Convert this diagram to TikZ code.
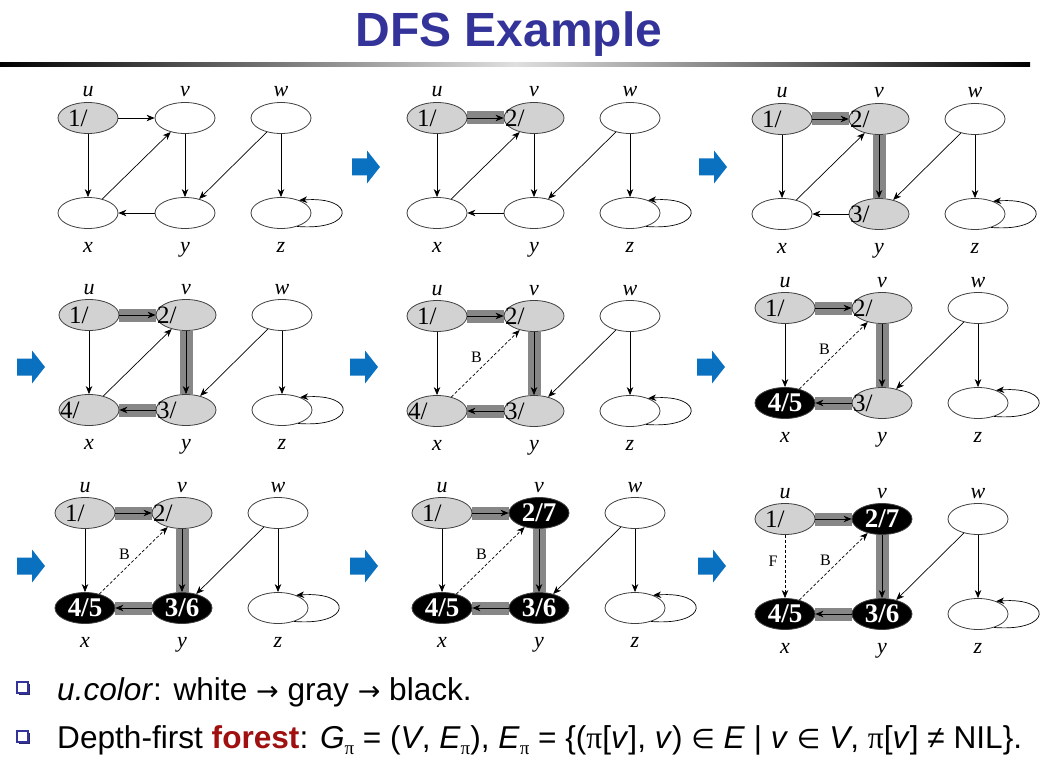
\documentclass[tikz,border=0pt]{standalone}
\usepackage{fontspec}
\setmainfont{Liberation Serif}
\setsansfont{Liberation Sans}
\newfontfamily\dejavu{DejaVu Sans}
\usetikzlibrary{shapes.geometric,arrows.meta,calc,backgrounds}
\definecolor{titleblue}{RGB}{51,51,153}
\definecolor{nodegray}{RGB}{210,210,210}
\definecolor{bandgray}{RGB}{135,135,135}
\definecolor{arrowblue}{RGB}{10,112,192}
\definecolor{forestred}{RGB}{160,16,16}
\definecolor{bulletnavy}{RGB}{40,40,110}
\tikzset{
  vtx/.style={ellipse, draw=black!75, line width=0.8pt, minimum width=60pt, minimum height=31pt, inner sep=0pt, font=\fontsize{25}{25}\selectfont},
  wv/.style={vtx, fill=white},
  gv/.style={vtx, fill=nodegray},
  bv/.style={vtx, fill=black, text=white, font=\fontsize{27}{27}\selectfont\bfseries},
  vlab/.style={font=\fontsize{22}{22}\selectfont\itshape, inner sep=0pt, anchor=base},
  edge/.style={draw=black, line width=0.7pt, -{Stealth[length=8pt,width=6.5pt,inset=2.5pt]}},
  bedge/.style={edge, dash pattern=on 3pt off 2pt},
  band/.style={draw=bandgray, line width=13pt},
  elab/.style={font=\fontsize{16}{16}\selectfont, inner sep=0pt},
  bullettext/.style={font=\sffamily\fontsize{31.6}{31.6}\selectfont, anchor=base west, inner sep=0pt},
}
\newcommand\lft[2]{\makebox[0pt][l]{\hspace*{#1pt}#2}}
\newcommand\common[3]{%
  \node[wv] (#1w) at ({#2+193},{#3}) {};
  \node[wv] (#1z) at ({#2+193},{#3+95}) {};
  \node[vlab] (#1lu) at ({#2},{#3-21}) {u};
  \node[vlab] (#1lv) at ({#2+97},{#3-21}) {v};
  \node[vlab] (#1lw) at ({#2+193},{#3-21}) {w};
  \node[vlab] (#1lx) at ({#2},{#3+95+39}) {x};
  \node[vlab] (#1ly) at ({#2+97},{#3+95+39}) {y};
  \node[vlab] (#1lz) at ({#2+193},{#3+95+39}) {z};
}
\newcommand\stdedges[1]{%
  \draw[edge] (#1u) -- (#1v);
  \draw[edge] (#1v) -- (#1y);
  \draw[edge] (#1y) -- (#1x);
  \draw[edge] (#1w) -- (#1y);
  \draw[edge] (#1w) -- (#1z);
  \draw[edge] (#1z.-40) .. controls ($(#1z)+(75,18)$) and ($(#1z)+(75,-17)$) .. (#1z.35);
}
\newcommand\band[2]{\begin{scope}[on background layer]\draw[band] (#1) -- (#2);\end{scope}}
\newcommand\barrow[2]{\fill[arrowblue] ({#1},{#2-8.5}) -- ++(15,0) -- ++(0,-8) -- ++(13,16.5) -- ++(-13,16.5) -- ++(0,-8) -- ++(-15,0) -- cycle;}
\newcommand\bsq[2]{%
  \fill[bulletnavy] ({#1+2},{#2+2}) rectangle ++(11,11);
  \draw[fill=white, draw=titleblue, line width=1.3pt] ({#1},{#2}) rectangle ++(11,11);
}
\newcommand\pis{\raisebox{-0.22em}{\fontsize{19}{19}\selectfont\rmfamily π}}
\newcommand\elem{{\dejavu\fontsize{27}{27}\selectfont ∈}}
\newcommand\rarr{{\dejavu\fontsize{27}{27}\selectfont →}}
\begin{document}
\begin{tikzpicture}[x=1pt,y=-1pt]
\useasboundingbox (0,0) rectangle (1047,757);
\begin{scope}[on background layer]\fill[white] (0,0) rectangle (1047,757);\end{scope}
% title
\node[font=\sffamily\bfseries\fontsize{48}{48}\selectfont, text=titleblue, anchor=base, inner sep=0pt] (title) at (509,47) {DFS Example};
\shade[left color=black, right color=black, middle color=gray!25] (0,63) rectangle (1030,67);

% ---------- panel 1
\node[gv] (au) at (88,118) {\lft{-20}{1/}};
\node[wv] (av) at (185,118) {};
\node[wv] (ax) at (88,213) {};
\node[wv] (ay) at (185,213) {};
\common{a}{88}{118}
\stdedges{a}
\draw[edge] (au) -- (ax);
\draw[edge] (ax) -- (av);

% ---------- panel 2
\node[gv] (bu) at (437,118) {\lft{-20}{1/}};
\node[gv] (bv) at (534,118) {\lft{-29}{2/}};
\node[wv] (bx) at (437,213) {};
\node[wv] (by) at (534,213) {};
\common{b}{437}{118}
\band{bu}{bv}
\stdedges{b}
\draw[edge] (bu) -- (bx);
\draw[edge] (bx) -- (bv);

% ---------- panel 3
\node[gv] (cu) at (782,119) {\lft{-20}{1/}};
\node[gv] (cv) at (879,119) {\lft{-29}{2/}};
\node[wv] (cx) at (782,214) {};
\node[gv] (cy) at (879,214) {\lft{-29}{3/}};
\common{c}{782}{119}
\band{cu}{cv}\band{cv}{cy}
\stdedges{c}
\draw[edge] (cu) -- (cx);
\draw[edge] (cx) -- (cv);

% ---------- panel 4
\node[gv] (du) at (89,315) {\lft{-20}{1/}};
\node[gv] (dv) at (186,315) {\lft{-29}{2/}};
\node[gv] (dx) at (89,410) {\lft{-29}{4/}};
\node[gv] (dy) at (186,410) {\lft{-29}{3/}};
\common{d}{89}{315}
\band{du}{dv}\band{dv}{dy}\band{dy}{dx}
\stdedges{d}
\draw[edge] (du) -- (dx);
\draw[edge] (dx) -- (dv);

% ---------- panel 5
\node[gv] (eu) at (437,316) {\lft{-20}{1/}};
\node[gv] (ev) at (534,316) {\lft{-29}{2/}};
\node[gv] (ex) at (437,411) {\lft{-29}{4/}};
\node[gv] (ey) at (534,411) {\lft{-29}{3/}};
\common{e}{437}{316}
\band{eu}{ev}\band{ev}{ey}\band{ey}{ex}
\stdedges{e}
\draw[edge] (eu) -- (ex);
\draw[bedge] (ex) -- node[elab, xshift=-9pt, yshift=6pt] (eB) {B} (ev);

% ---------- panel 6
\node[gv] (fu) at (785,308) {\lft{-20}{1/}};
\node[gv] (fv) at (882,308) {\lft{-29}{2/}};
\node[bv] (fx) at (785,403) {4/5};
\node[gv] (fy) at (882,403) {\lft{-29}{3/}};
\common{f}{785}{308}
\band{fu}{fv}\band{fv}{fy}\band{fy}{fx}
\stdedges{f}
\draw[edge] (fu) -- (fx);
\draw[bedge] (fx) -- node[elab, xshift=-9pt, yshift=6pt] (fB) {B} (fv);

% ---------- panel 7
\node[gv] (gu) at (85,513) {\lft{-20}{1/}};
\node[gv] (gv) at (182,513) {\lft{-29}{2/}};
\node[bv] (gx) at (85,608) {4/5};
\node[bv] (gy) at (182,608) {3/6};
\common{g}{85}{513}
\band{gu}{gv}\band{gv}{gy}\band{gy}{gx}
\stdedges{g}
\draw[edge] (gu) -- (gx);
\draw[bedge] (gx) -- node[elab, xshift=-9pt, yshift=6pt] (gB) {B} (gv);

% ---------- panel 8
\node[gv] (hu) at (442,513) {\lft{-20}{1/}};
\node[bv] (hv) at (539,513) {2/7};
\node[bv] (hx) at (442,608) {4/5};
\node[bv] (hy) at (539,608) {3/6};
\common{h}{442}{513}
\band{hu}{hv}\band{hv}{hy}\band{hy}{hx}
\stdedges{h}
\draw[edge] (hu) -- (hx);
\draw[bedge] (hx) -- node[elab, xshift=-9pt, yshift=6pt] (hB) {B} (hv);

% ---------- panel 9
\node[gv] (iu) at (785,519) {\lft{-20}{1/}};
\node[bv] (iv) at (882,519) {2/7};
\node[bv] (ix) at (785,614) {4/5};
\node[bv] (iy) at (882,614) {3/6};
\common{i}{785}{519}
\band{iu}{iv}\band{iv}{iy}\band{iy}{ix}
\stdedges{i}
\draw[bedge] (iu) -- node[elab, xshift=-12pt, yshift=5pt] (iF) {F} (ix);
\draw[bedge] (ix) -- node[elab, xshift=-8pt, yshift=6pt] (iB) {B} (iv);

% ---------- blue arrows
\barrow{352}{167}\barrow{699}{167}
\barrow{17}{367}\barrow{350}{367}\barrow{697}{367}
\barrow{17}{566}\barrow{350}{566}\barrow{698}{566}

% ---------- bottom text
\bsq{17}{682}
\node[bullettext] (t1) at (57,700) {\textit{u.color}: white \rarr{} gray \rarr{} black.};
\bsq{17}{731}
\node[bullettext] (t2) at (57,748) {Depth-first \textbf{\color{forestred}forest}: \textit{G}\pis{} = (\textit{V}, \textit{E}\pis), \textit{E}\pis{} = \{({\rmfamily π}[\textit{v}], \textit{v}) \elem{} \textit{E} | \textit{v} \elem{} \textit{V}, {\rmfamily π}[\textit{v}] ≠ NIL\}.};
\end{tikzpicture}
\end{document}
